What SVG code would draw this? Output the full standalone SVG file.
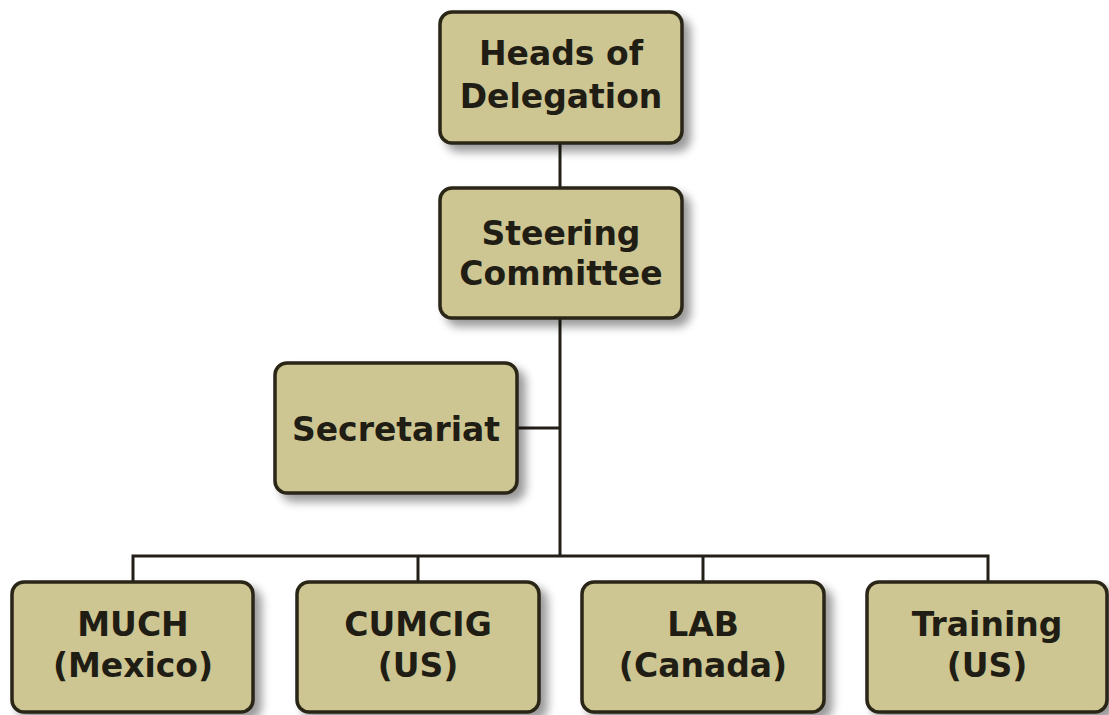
<svg xmlns="http://www.w3.org/2000/svg" width="1109" height="715" viewBox="0 0 1109 715">
<defs>
<filter id="sh" x="-10%" y="-10%" width="130%" height="130%">
<feGaussianBlur in="SourceAlpha" stdDeviation="5"/>
<feOffset dx="7" dy="7" result="b"/>
<feComponentTransfer><feFuncA type="linear" slope="0.4"/></feComponentTransfer>
<feMerge><feMergeNode/><feMergeNode in="SourceGraphic"/></feMerge>
</filter>
</defs>
<style>
.box{fill:#cdc592;stroke:#2a2519;stroke-width:3.5;filter:url(#sh)}
.t{font-family:"DejaVu Sans",Verdana,sans-serif;font-weight:bold;font-size:33px;fill:#1f1d14;text-anchor:middle}
.c{stroke:#231f18;stroke-width:3;fill:none}
</style>
<rect width="1109" height="715" fill="#ffffff"/>
<g id="connectors">
<line class="c" x1="560" y1="143" x2="560" y2="189"/>
<line class="c" x1="560" y1="318" x2="560" y2="556"/>
<line class="c" x1="517" y1="428" x2="560" y2="428"/>
<polyline class="c" points="133,583 133,556 988,556 988,583"/>
<line class="c" x1="418" y1="556" x2="418" y2="583"/>
<line class="c" x1="703" y1="556" x2="703" y2="583"/>
</g>
<g id="heads">
<rect class="box" x="440" y="12" width="242" height="131" rx="12"/>
<text class="t" x="561" y="65">Heads of</text>
<text class="t" x="561" y="108">Delegation</text>
</g>
<g id="steering">
<rect class="box" x="440" y="188" width="242" height="130" rx="12"/>
<text class="t" x="561" y="245">Steering</text>
<text class="t" x="561" y="285">Committee</text>
</g>
<g id="secretariat">
<rect class="box" x="275" y="363" width="242" height="130" rx="12"/>
<text class="t" x="396" y="441">Secretariat</text>
</g>
<g id="much">
<rect class="box" x="12" y="582" width="241" height="130" rx="12"/>
<text class="t" x="133" y="636">MUCH</text>
<text class="t" x="133" y="677">(Mexico)</text>
</g>
<g id="cumcig">
<rect class="box" x="297" y="582" width="242" height="130" rx="12"/>
<text class="t" x="418" y="636">CUMCIG</text>
<text class="t" x="418" y="677">(US)</text>
</g>
<g id="lab">
<rect class="box" x="582" y="582" width="242" height="130" rx="12"/>
<text class="t" x="703" y="636">LAB</text>
<text class="t" x="703" y="677">(Canada)</text>
</g>
<g id="training">
<rect class="box" x="867" y="582" width="240" height="130" rx="12"/>
<text class="t" x="987" y="636">Training</text>
<text class="t" x="987" y="677">(US)</text>
</g>
</svg>
